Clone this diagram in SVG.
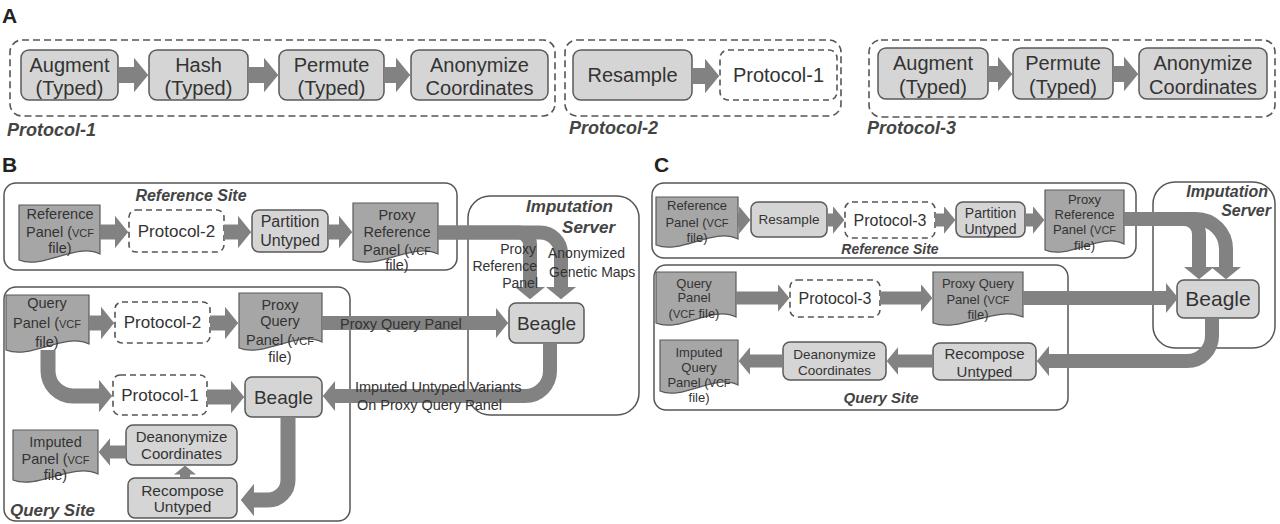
<svg xmlns="http://www.w3.org/2000/svg" width="1280" height="524" viewBox="0 0 1280 524">
<defs>
<marker id="ah" viewBox="0 0 9 22" refX="0.5" refY="11" markerWidth="0.9" markerHeight="2.2" orient="auto" markerUnits="strokeWidth"><path d="M0,0 L9,11 L0,22 z" fill="#828282"/></marker>
<style>
text{font-family:"Liberation Sans",Arial,sans-serif;fill:#333}
.m{text-anchor:middle}
.e{text-anchor:end}
.bi{font-weight:bold;font-style:italic;fill:#444}
.lab{font-weight:bold;font-size:21px;fill:#222}
.n{fill:#d5d5d5;stroke:#5a5a5a;stroke-width:1.5}
.d{fill:#a6a6a6;stroke:#5a5a5a;stroke-width:1.2}
.ds{fill:#fff;stroke:#555;stroke-width:1.6;stroke-dasharray:6 4}
.dg{fill:none;stroke:#555;stroke-width:1.6;stroke-dasharray:7 4}
.g{fill:none;stroke:#555;stroke-width:1.5}
.c path{fill:none;stroke:#828282;marker-end:url(#ah)}
.s{font-size:11px}
</style>
</defs>

<!-- Panel labels -->
<text class="lab" x="2" y="23">A</text>
<text class="lab" x="2" y="172">B</text>
<text class="lab" x="654" y="172">C</text>

<!-- Panel A groups -->
<g id="protocol1-group"><rect class="dg" x="10" y="40" width="545" height="76" rx="12"/><text class="bi" x="7" y="136" font-size="18">Protocol-1</text></g>
<g id="protocol2-group"><rect class="dg" x="565" y="40" width="276" height="76" rx="12"/><text class="bi" x="569" y="134" font-size="18">Protocol-2</text></g>
<g id="protocol3-group"><rect class="dg" x="869" y="40" width="406" height="77" rx="12"/><text class="bi" x="867" y="134" font-size="18">Protocol-3</text></g>

<g font-size="20">
<g id="a1-augment"><rect class="n" x="21" y="50" width="97" height="50" rx="8"/><text class="m" x="69.5" y="72">Augment</text><text class="m" x="69.5" y="95">(Typed)</text></g>
<g id="a1-hash"><rect class="n" x="149" y="50" width="99" height="50" rx="8"/><text class="m" x="198.5" y="72">Hash</text><text class="m" x="198.5" y="95">(Typed)</text></g>
<g id="a1-permute"><rect class="n" x="279" y="50" width="105" height="50" rx="8"/><text class="m" x="331.5" y="72">Permute</text><text class="m" x="331.5" y="95">(Typed)</text></g>
<g id="a1-anonymize"><rect class="n" x="411" y="50" width="137" height="50" rx="8"/><text class="m" x="479.5" y="72">Anonymize</text><text class="m" x="479.5" y="95">Coordinates</text></g>
<g id="a2-resample"><rect class="n" x="573" y="50" width="119" height="50" rx="8"/><text class="m" x="632.5" y="82">Resample</text></g>
<g id="a2-protocol1"><rect class="ds" x="720" y="50" width="117" height="50" rx="8"/><text class="m" x="778.5" y="82">Protocol-1</text></g>
<g id="a3-augment"><rect class="n" x="878" y="48" width="110" height="51" rx="8"/><text class="m" x="933" y="70">Augment</text><text class="m" x="933" y="94">(Typed)</text></g>
<g id="a3-permute"><rect class="n" x="1013" y="48" width="100" height="51" rx="8"/><text class="m" x="1063" y="70">Permute</text><text class="m" x="1063" y="94">(Typed)</text></g>
<g id="a3-anonymize"><rect class="n" x="1139" y="48" width="128" height="51" rx="8"/><text class="m" x="1203" y="70">Anonymize</text><text class="m" x="1203" y="94">Coordinates</text></g>
</g>

<!-- Panel B groups -->
<g id="b-reference-site"><rect class="g" x="4" y="183" width="453" height="87" rx="12"/><text class="bi m" x="191" y="201" font-size="16">Reference Site</text></g>
<g id="b-imputation-server"><rect class="g" x="468" y="196" width="171" height="219" rx="22"/><text class="bi e" x="613" y="212" font-size="17">Imputation</text><text class="bi e" x="615" y="233" font-size="17">Server</text></g>
<g id="b-query-site"><rect class="g" x="4" y="287" width="346" height="234" rx="12"/><text class="bi" x="10" y="516" font-size="17">Query Site</text></g>

<g font-size="14.5">
<g id="b-ref-panel"><path class="d" d="M19,205 H100 V254 C76,242 43,270 19,260 Z"/><text class="m" x="60" y="219">Reference</text><text class="m" x="60" y="237">Panel (<tspan class="s">VCF</tspan></text><text class="m" x="60" y="253">file)</text></g>
<g id="b-ref-protocol2"><rect class="ds" x="129" y="210" width="95" height="42" rx="7"/><text class="m" x="176.5" y="237" font-size="17">Protocol-2</text></g>
<g id="b-partition"><rect class="n" x="252" y="210" width="76" height="42" rx="7"/><text class="m" x="290" y="227" font-size="16">Partition</text><text class="m" x="290" y="246" font-size="16">Untyped</text></g>
<g id="b-proxy-ref"><path class="d" d="M353,203 H438 V254 C412,242 379,270 353,260 Z"/><text class="m" x="397" y="220">Proxy</text><text class="m" x="397" y="237">Reference</text><text class="m" x="397" y="255">Panel (<tspan class="s">VCF</tspan></text><text class="m" x="397" y="270">file)</text></g>
<g id="b-query-panel"><path class="d" d="M6,295 H89 V344 C64,332 31,360 6,350 Z"/><text class="m" x="47" y="308">Query</text><text class="m" x="47" y="328">Panel (<tspan class="s">VCF</tspan></text><text class="m" x="47" y="347">file)</text></g>
<g id="b-query-protocol2"><rect class="ds" x="115" y="302" width="95" height="41" rx="7"/><text class="m" x="162.5" y="328" font-size="17">Protocol-2</text></g>
<g id="b-proxy-query"><path class="d" d="M239,293 H322 V342 C297,330 264,358 239,348 Z"/><text class="m" x="280" y="310">Proxy</text><text class="m" x="280" y="326">Query</text><text class="m" x="280" y="345">Panel (<tspan class="s">VCF</tspan></text><text class="m" x="280" y="362">file)</text></g>
<g id="b-query-protocol1"><rect class="ds" x="113" y="375" width="94" height="40" rx="7"/><text class="m" x="160" y="401" font-size="17">Protocol-1</text></g>
<g id="b-beagle-query"><rect class="n" x="245" y="377" width="77" height="40" rx="7"/><text class="m" x="283.5" y="404" font-size="19">Beagle</text></g>
<g id="b-beagle-server"><rect class="n" x="509" y="303" width="75" height="40" rx="7"/><text class="m" x="546.5" y="330" font-size="19">Beagle</text></g>
<g id="b-deanonymize"><rect class="n" x="126" y="425" width="111" height="40" rx="7"/><text class="m" x="181.5" y="442" font-size="15">Deanonymize</text><text class="m" x="181.5" y="459" font-size="15">Coordinates</text></g>
<g id="b-recompose"><rect class="n" x="128" y="478" width="109" height="40" rx="7"/><text class="m" x="182.5" y="496" font-size="15.5">Recompose</text><text class="m" x="182.5" y="512" font-size="15.5">Untyped</text></g>
<g id="b-imputed-panel"><path class="d" d="M13,430 H98 V474 C72,462 38,490 13,480 Z"/><text class="m" x="55.5" y="447">Imputed</text><text class="m" x="55.5" y="464">Panel (<tspan class="s">VCF</tspan></text><text class="m" x="55.5" y="480">file)</text></g>
</g>

<!-- Panel C groups -->
<g id="c-reference-site"><rect class="g" x="652" y="183" width="484" height="75" rx="12"/><text class="bi m" x="890" y="254" font-size="14">Reference Site</text></g>
<g id="c-imputation-server"><rect class="g" x="1153" y="182" width="122" height="166" rx="22"/><text class="bi e" x="1268" y="197" font-size="16">Imputation</text><text class="bi e" x="1271" y="216" font-size="16">Server</text></g>
<g id="c-query-site"><rect class="g" x="654" y="265" width="414" height="145" rx="12"/><text class="bi m" x="881" y="403" font-size="15">Query Site</text></g>

<g font-size="13">
<g id="c-ref-panel"><path class="d" d="M656,197 H738 V239 C713,227 681,255 656,245 Z"/><text class="m" x="697" y="210">Reference</text><text class="m" x="697" y="227">Panel (<tspan class="s">VCF</tspan></text><text class="m" x="697" y="242">file)</text></g>
<g id="c-resample"><rect class="n" x="751" y="202" width="76" height="35" rx="7"/><text class="m" x="789" y="224" font-size="13.5">Resample</text></g>
<g id="c-ref-protocol3"><rect class="ds" x="845" y="202" width="90" height="36" rx="7"/><text class="m" x="890" y="226" font-size="16">Protocol-3</text></g>
<g id="c-partition"><rect class="n" x="956" y="202" width="69" height="35" rx="7"/><text class="m" x="990.5" y="218" font-size="14">Partition</text><text class="m" x="990.5" y="234" font-size="14">Untyped</text></g>
<g id="c-proxy-ref"><path class="d" d="M1045,190 H1124 V244 C1100,232 1069,260 1045,250 Z"/><text class="m" x="1084.5" y="204">Proxy</text><text class="m" x="1084.5" y="219">Reference</text><text class="m" x="1084.5" y="234">Panel (<tspan class="s">VCF</tspan></text><text class="m" x="1084.5" y="250">file)</text></g>
<g id="c-query-panel"><path class="d" d="M656,272 H736 V317 C712,305 680,333 656,323 Z"/><text class="m" x="694" y="288">Query</text><text class="m" x="694" y="302">Panel</text><text class="m" x="694" y="318">(<tspan class="s">VCF</tspan> file)</text></g>
<g id="c-query-protocol3"><rect class="ds" x="790" y="280" width="90" height="37" rx="7"/><text class="m" x="835" y="304" font-size="16">Protocol-3</text></g>
<g id="c-proxy-query"><path class="d" d="M933,272 H1023 V317 C996,305 960,333 933,323 Z"/><text class="m" x="978" y="288">Proxy Query</text><text class="m" x="978" y="304">Panel (<tspan class="s">VCF</tspan></text><text class="m" x="978" y="319">file)</text></g>
<g id="c-beagle"><rect class="n" x="1177" y="280" width="82" height="38" rx="7"/><text class="m" x="1218" y="306" font-size="21">Beagle</text></g>
<g id="c-imputed-panel"><path class="d" d="M660,340 H738 V385 C715,373 683,401 660,391 Z"/><text class="m" x="699" y="357">Imputed</text><text class="m" x="699" y="372">Query</text><text class="m" x="699" y="387">Panel (<tspan class="s">VCF</tspan></text><text class="m" x="699" y="402">file)</text></g>
<g id="c-deanonymize"><rect class="n" x="783" y="342" width="103" height="38" rx="7"/><text class="m" x="834.5" y="359" font-size="13.5">Deanonymize</text><text class="m" x="834.5" y="375" font-size="13.5">Coordinates</text></g>
<g id="c-recompose"><rect class="n" x="933" y="343" width="103" height="37" rx="7"/><text class="m" x="984.5" y="359" font-size="15">Recompose</text><text class="m" x="984.5" y="377" font-size="15">Untyped</text></g>
</g>

<!-- Connectors -->
<g id="connectors" class="c">
<path stroke-width="16" d="M118,75 H134.6"/>
<path stroke-width="16" d="M248,75 H264.6"/>
<path stroke-width="16" d="M384,75 H396.6"/>
<path stroke-width="16" d="M692,76 H705.6"/>
<path stroke-width="16" d="M988,74 H998.6"/>
<path stroke-width="16" d="M1113,74 H1124.6"/>

<path stroke-width="15" d="M100,232 H115.5"/>
<path stroke-width="15" d="M224,232 H238.5"/>
<path stroke-width="15" d="M328,232 H339.5"/>
<path stroke-width="14" d="M438,232.5 H540 A21,21 0 0 1 561,253.5 V287.4"/>
<path stroke-width="14" d="M438,232.5 H518 A12,12 0 0 1 530,244.5 V287.4"/>
<path stroke-width="15" d="M89,323 H101.5"/>
<path stroke-width="15" d="M210,323 H225.5"/>
<path stroke-width="14" d="M322,323 H496.4"/>
<path stroke-width="15" d="M48,350 V371 A25,25 0 0 0 73,396 H99.5"/>
<path stroke-width="15" d="M207,397 H231.5"/>
<path stroke-width="14" d="M550,343 V371 A25,25 0 0 1 525,396 H334.6"/>
<path stroke-width="15" d="M288,417 V480 A20,20 0 0 1 268,500 H253.5"/>
<path stroke-width="10" d="M185,478 V474"/>
<path stroke-width="13" d="M126,452 H109.7"/>

<path stroke-width="13" d="M738,220 H739.3"/>
<path stroke-width="13" d="M827,220 H833.3"/>
<path stroke-width="13" d="M935,220 H944.3"/>
<path stroke-width="13" d="M1025,220 H1033.3"/>
<path stroke-width="14" d="M1124,219 H1196 A30,30 0 0 1 1226,249 V267.4"/>
<path stroke-width="14" d="M1124,219 H1184 A15,15 0 0 1 1199,234 V267.4"/>
<path stroke-width="13" d="M736,298 H778.3"/>
<path stroke-width="13" d="M880,298 H921.3"/>
<path stroke-width="14" d="M1023,298 H1166.4"/>
<path stroke-width="14" d="M1212,318 V336 A25,25 0 0 1 1187,361 H1048.6"/>
<path stroke-width="13" d="M933,361 H897.7"/>
<path stroke-width="13" d="M783,361 H749.7"/>
</g>

<!-- Connector labels -->
<g id="connector-labels" font-size="14" fill="#444">
<text class="e" x="536" y="254">Proxy</text>
<text class="e" x="537" y="271">Reference</text>
<text class="e" x="538" y="288">Panel</text>
<text x="548" y="258">Anonymized</text>
<text x="549" y="277">Genetic Maps</text>
<text x="340" y="329" font-size="14.5">Proxy Query Panel</text>
<text x="355" y="392" font-size="14.5">Imputed Untyped Variants</text>
<text x="357" y="410" font-size="14.5">On Proxy Query Panel</text>
</g>
</svg>
